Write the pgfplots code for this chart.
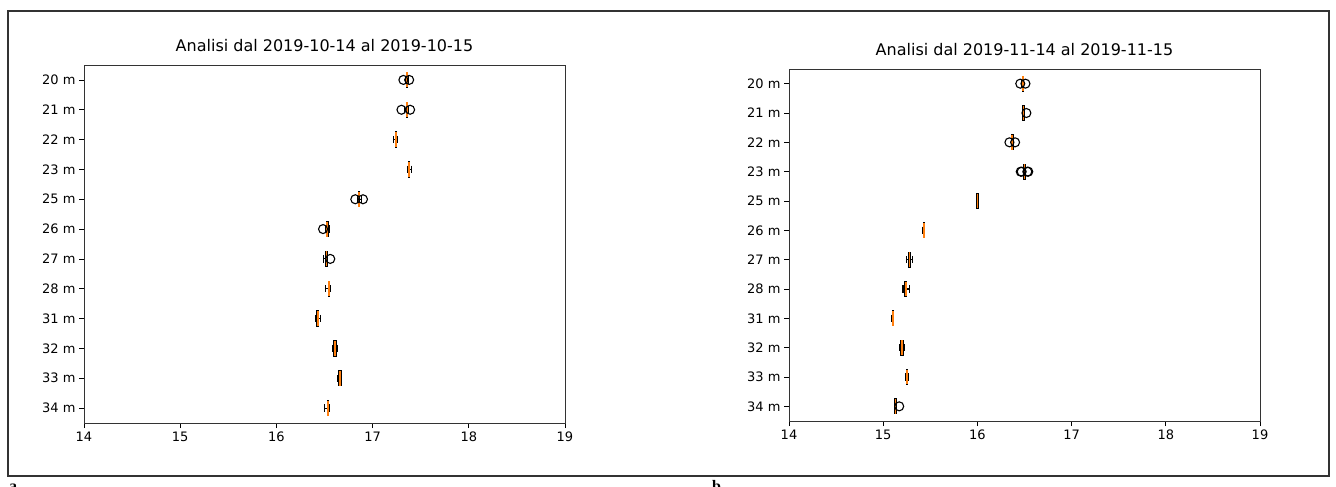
\documentclass[border=0pt]{standalone}
\usepackage{pgfplots}
\pgfplotsset{compat=1.18}
\usepgfplotslibrary{statistics}
\usepackage{fontspec}
\setmainfont{DejaVu Sans}
\newfontfamily\panelfont{Liberation Serif}
\definecolor{mplorange}{HTML}{FF7F0E}

\pgfplotsset{
  boxaxis/.style={
    scale only axis, anchor=south west,
    xmin=14, xmax=19, ymin=0.5, ymax=12.5, y dir=reverse,
    xtick={14,...,19}, ytick={1,...,12},
    yticklabels={20 m,21 m,22 m,23 m,25 m,26 m,27 m,28 m,31 m,32 m,33 m,34 m},
    xtick pos=bottom, ytick pos=left,
    tick align=outside, major tick length=5pt,
    tick style={black, line width=0.8pt},
    axis line style={black!80, line width=0.9pt},
    ticklabel style={font=\fontsize{13}{15}\selectfont},
    /pgf/number format/assume math mode=true,
    title style={font=\fontsize{16}{19}\selectfont, at={(0.5,1)}, anchor=base, yshift=7pt},
    boxplot/draw direction=x,
    boxplot/box extend=0.5,
    boxplot/whisker extend=0.25,
    boxplot/every median/.style={draw=mplorange, line width=1.8pt},
    boxplot/every box/.style={draw=black, line width=1.3pt},
    boxplot/every whisker/.style={draw=black, line width=1.1pt},
  },
  bp/.style={black, mark=o, mark size=4.5pt, mark options={black, line width=1.1pt, fill=none}},
}

\begin{document}
\begin{tikzpicture}[x=1pt, y=1pt]
\useasboundingbox (0,0) rectangle (1336,487);
\draw[black!80, line width=2pt] (8,11) rectangle (1329,476);

% left panel
\begin{axis}[boxaxis, at={(84pt,64pt)}, width=481pt, height=358pt,
  title={Analisi dal 2019-10-14 al 2019-10-15}]
\addplot[bp, boxplot prepared={draw position=1, lower whisker=17.34, lower quartile=17.35, median=17.355, upper quartile=17.36, upper whisker=17.37}] table[row sep=\\, y index=0] {v\\ 17.32\\ 17.38\\};
\addplot[bp, boxplot prepared={draw position=2, lower whisker=17.33, lower quartile=17.35, median=17.36, upper quartile=17.365, upper whisker=17.37}] table[row sep=\\, y index=0] {v\\ 17.30\\ 17.39\\};
\addplot[bp, boxplot prepared={draw position=3, lower whisker=17.22, lower quartile=17.235, median=17.24, upper quartile=17.245, upper whisker=17.26}] coordinates {};
\addplot[bp, boxplot prepared={draw position=4, lower whisker=17.36, lower quartile=17.37, median=17.38, upper quartile=17.385, upper whisker=17.40}] coordinates {};
\addplot[bp, boxplot prepared={draw position=5, lower whisker=16.84, lower quartile=16.855, median=16.86, upper quartile=16.865, upper whisker=16.88}] table[row sep=\\, y index=0] {v\\ 16.82\\ 16.90\\};
\addplot[bp, boxplot prepared={draw position=6, lower whisker=16.51, lower quartile=16.52, median=16.527, upper quartile=16.535, upper whisker=16.55}] table[row sep=\\, y index=0] {v\\ 16.485\\};
\addplot[bp, boxplot prepared={draw position=7, lower whisker=16.49, lower quartile=16.51, median=16.52, upper quartile=16.525, upper whisker=16.535}] table[row sep=\\, y index=0] {v\\ 16.56\\};
\addplot[bp, boxplot prepared={draw position=8, lower whisker=16.51, lower quartile=16.54, median=16.55, upper quartile=16.555, upper whisker=16.56}] coordinates {};
\addplot[bp, boxplot prepared={draw position=9, lower whisker=16.41, lower quartile=16.42, median=16.43, upper quartile=16.44, upper whisker=16.455}] coordinates {};
\addplot[bp, boxplot prepared={draw position=10, lower whisker=16.585, lower quartile=16.60, median=16.61, upper quartile=16.62, upper whisker=16.635}] coordinates {};
\addplot[bp, boxplot prepared={draw position=11, lower whisker=16.64, lower quartile=16.65, median=16.66, upper quartile=16.67, upper whisker=16.68}] coordinates {};
\addplot[bp, boxplot prepared={draw position=12, lower whisker=16.50, lower quartile=16.53, median=16.54, upper quartile=16.545, upper whisker=16.55}] coordinates {};
\end{axis}

% right panel
\begin{axis}[boxaxis, at={(789pt,66pt)}, width=471pt, height=352pt,
  title={Analisi dal 2019-11-14 al 2019-11-15}]
\addplot[bp, boxplot prepared={draw position=1, lower whisker=16.47, lower quartile=16.475, median=16.48, upper quartile=16.485, upper whisker=16.49}] table[row sep=\\, y index=0] {v\\ 16.455\\ 16.51\\};
\addplot[bp, boxplot prepared={draw position=2, lower whisker=16.475, lower quartile=16.485, median=16.49, upper quartile=16.495, upper whisker=16.50}] table[row sep=\\, y index=0] {v\\ 16.52\\};
\addplot[bp, boxplot prepared={draw position=3, lower whisker=16.36, lower quartile=16.365, median=16.37, upper quartile=16.38, upper whisker=16.385}] table[row sep=\\, y index=0] {v\\ 16.34\\ 16.40\\};
\addplot[bp, boxplot prepared={draw position=4, lower whisker=16.49, lower quartile=16.495, median=16.50, upper quartile=16.505, upper whisker=16.51}] table[row sep=\\, y index=0] {v\\ 16.46\\ 16.47\\ 16.53\\ 16.54\\};
\addplot[bp, boxplot prepared={draw position=5, lower whisker=15.99, lower quartile=15.995, median=16.00, upper quartile=16.005, upper whisker=16.01}] coordinates {};
\addplot[bp, boxplot prepared={draw position=6, lower whisker=15.42, lower quartile=15.425, median=15.43, upper quartile=15.435, upper whisker=15.44}] coordinates {};
\addplot[bp, boxplot prepared={draw position=7, lower whisker=15.25, lower quartile=15.27, median=15.28, upper quartile=15.29, upper whisker=15.31}] coordinates {};
\addplot[bp, boxplot prepared={draw position=8, lower whisker=15.21, lower quartile=15.23, median=15.24, upper quartile=15.25, upper whisker=15.28}] coordinates {};
\addplot[bp, boxplot prepared={draw position=9, lower whisker=15.09, lower quartile=15.095, median=15.10, upper quartile=15.105, upper whisker=15.11}] coordinates {};
\addplot[bp, boxplot prepared={draw position=10, lower whisker=15.17, lower quartile=15.19, median=15.20, upper quartile=15.21, upper whisker=15.23}] coordinates {};
\addplot[bp, boxplot prepared={draw position=11, lower whisker=15.235, lower quartile=15.245, median=15.25, upper quartile=15.255, upper whisker=15.265}] coordinates {};
\addplot[bp, boxplot prepared={draw position=12, lower whisker=15.12, lower quartile=15.125, median=15.13, upper quartile=15.135, upper whisker=15.14}] table[row sep=\\, y index=0] {v\\ 15.17\\};
\end{axis}

\node[anchor=north west, inner sep=0pt, font=\panelfont\bfseries\fontsize{16}{19}\selectfont] at (9,3) {a};
\node[anchor=north west, inner sep=0pt, font=\panelfont\bfseries\fontsize{16}{19}\selectfont] at (712,7) {b};
\end{tikzpicture}
\end{document}
